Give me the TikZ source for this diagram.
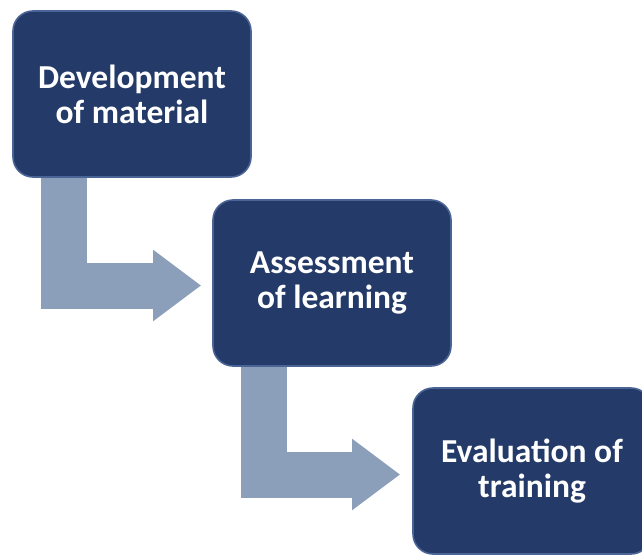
\documentclass[tikz,border=0pt]{standalone}
\usepackage{fontspec}
\setmainfont{Carlito}
\usetikzlibrary{arrows.meta,positioning}
\definecolor{boxblue}{HTML}{243B69}
\definecolor{boxrim}{HTML}{4A6495}
\definecolor{flowgray}{HTML}{8C9FBA}

\tikzset{
  stagebox/.style={draw=boxrim, fill=boxblue, line width=1.6pt, rounded corners=20pt,
    minimum width=238pt, minimum height=166pt, align=center, text=white,
    font=\fontsize{33.5}{35}\selectfont\bfseries},
  flowarrow/.style={draw=flowgray, line width=46pt, line join=miter,
    -{Triangle[length=48pt,width=68pt,sep=0pt]}}
}

\begin{document}
\begin{tikzpicture}[x=1pt,y=-1pt]
\useasboundingbox (0,0) rectangle (642,554);
\clip (0,0) rectangle (642,554);

\node[stagebox] (devel) at (132,94) {Development\\of material};
\node[stagebox] (assess) at (332,283) {Assessment\\of learning};
\node[stagebox] (evalu) at (532,471) {Evaluation of\\training};

\draw[flowarrow] ([xshift=52pt]devel.south west) |- ([xshift=-11pt,yshift=-2.5pt]assess.west);
\draw[flowarrow] ([xshift=52pt]assess.south west) |- ([xshift=-12pt,yshift=-3.5pt]evalu.west);
\end{tikzpicture}
\end{document}
